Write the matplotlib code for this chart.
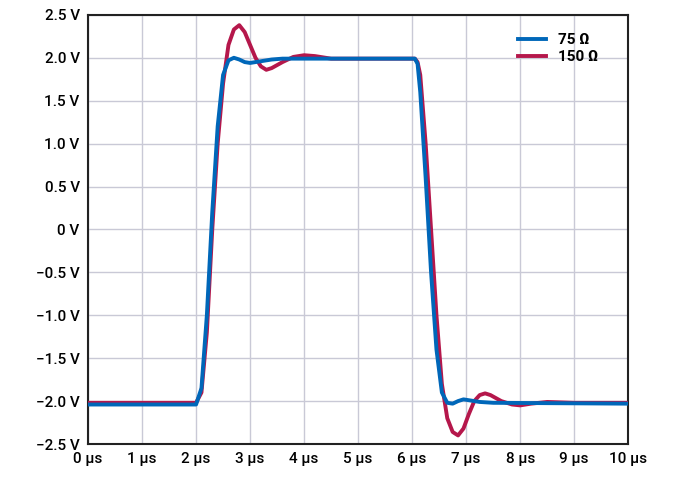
import matplotlib.pyplot as plt

t_red = [0, 1, 2.0, 2.1, 2.2, 2.3, 2.4, 2.5, 2.6, 2.7, 2.8, 2.9, 3.0, 3.1, 3.2, 3.3, 3.4, 3.6, 3.8, 4.0,
         4.2, 4.5, 5, 6.05, 6.1, 6.15, 6.25, 6.35, 6.45, 6.55, 6.65, 6.75, 6.85, 6.95, 7.05, 7.15, 7.25,
         7.35, 7.45, 7.65, 7.85, 8.0, 8.2, 8.5, 9, 10]
v_red = [-2.02, -2.02, -2.02, -1.9, -1.2, 0.0, 1.0, 1.7, 2.15, 2.33, 2.38, 2.3, 2.15, 2.0, 1.9, 1.86, 1.88,
         1.95, 2.01, 2.03, 2.02, 1.99, 1.99, 1.99, 1.95, 1.8, 1.0, 0.0, -1.0, -1.8, -2.2, -2.36, -2.40,
         -2.32, -2.15, -2.0, -1.93, -1.91, -1.93, -2.0, -2.04, -2.05, -2.03, -2.01, -2.02, -2.02]

t_blue = [0, 1, 2.0, 2.1, 2.2, 2.3, 2.4, 2.5, 2.6, 2.7, 2.8, 2.9, 3.0, 3.2, 3.4, 3.6, 6.05, 6.1, 6.15,
          6.25, 6.35, 6.45, 6.55, 6.65, 6.75, 6.85, 6.95, 7.05, 7.25, 7.5, 10]
v_blue = [-2.04, -2.04, -2.04, -1.85, -1.0, 0.2, 1.2, 1.8, 1.97, 2.0, 1.98, 1.95, 1.94, 1.96, 1.98, 1.99,
          1.99, 1.93, 1.6, 0.6, -0.5, -1.4, -1.9, -2.02, -2.03, -2.0, -1.98, -1.99, -2.01, -2.02, -2.03]

x_ticks = list(range(11))
x_labels = [f"{i} µs" for i in x_ticks]
y_ticks = [2.5, 2.0, 1.5, 1.0, 0.5, 0, -0.5, -1.0, -1.5, -2.0, -2.5]
y_labels = ["2.5 V", "2.0 V", "1.5 V", "1.0 V", "0.5 V", "0 V", "\u22120.5 V", "\u22121.0 V",
            "\u22121.5 V", "\u22122.0 V", "\u22122.5 V"]

plt.rcParams['font.family'] = ['Roboto', 'DejaVu Sans']
fig, ax = plt.subplots(figsize=(6.77, 4.8), dpi=100)
fig.subplots_adjust(left=0.13, right=0.928, top=0.969, bottom=0.075)

ax.plot(t_red, v_red, color='#b5174b', lw=2.8, label='150 Ω', zorder=3, solid_joinstyle='round')
ax.plot(t_blue, v_blue, color='#0067b9', lw=2.8, label='75 Ω', zorder=4, solid_joinstyle='round')

ax.set_xlim(0, 10)
ax.set_ylim(-2.5, 2.5)
ax.set_xticks(x_ticks)
ax.set_xticklabels(x_labels)
ax.set_yticks(y_ticks)
ax.set_yticklabels(y_labels)
ax.tick_params(length=0, labelsize=11, pad=6)
for lab in ax.get_xticklabels() + ax.get_yticklabels():
    lab.set_fontweight('medium')
ax.grid(color='#c9c9d6', lw=1)
for s in ax.spines.values():
    s.set_color('#222222')
    s.set_linewidth(1.5)

h, l = ax.get_legend_handles_labels()
ax.legend(h[::-1], l[::-1], loc='upper right', frameon=False,
          handlelength=1.8, labelspacing=0.2, bbox_to_anchor=(0.97, 0.99),
          prop={'weight': 'bold', 'size': 11})

fig.savefig('out.png')
